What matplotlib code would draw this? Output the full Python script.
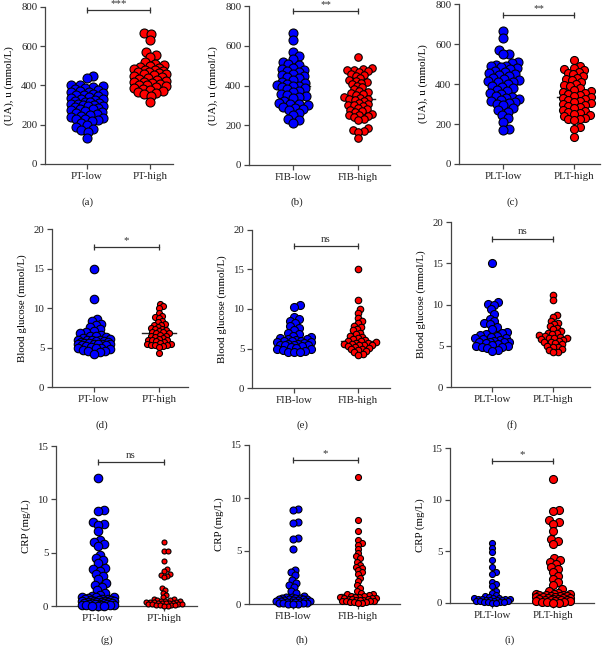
import numpy as np
import matplotlib
matplotlib.use("Agg")
import matplotlib.pyplot as plt

plt.rcParams['font.family'] = ['Liberation Serif', 'DejaVu Serif']
plt.rcParams['font.size'] = 7.8

W, H = 612, 649
BLUE = "#0000FF"
RED = "#FF0000"

# ---- data ----
ua_pt_low = [448, 440, 405, 400, 395, 390, 385, 380, 375, 370, 368, 365, 360, 355, 350, 350, 345, 340,
             335, 330, 330, 325, 320, 318, 315, 310, 305, 305, 300, 300, 298, 295, 290, 285, 280, 278,
             275, 270, 265, 260, 255, 250, 245, 240, 235, 230, 228, 225, 220, 210, 200, 190, 180, 175,
             165, 135]
ua_pt_high = [665, 660, 630, 570, 555, 545, 520, 510, 505, 500, 495, 490, 485, 480, 478, 475, 470, 468,
              465, 460, 458, 455, 450, 445, 440, 435, 430, 425, 420, 418, 415, 410, 405, 400, 395, 390,
              385, 380, 375, 370, 365, 360, 355, 345, 315]
ua_fib_low = [665, 630, 570, 550, 535, 520, 510, 505, 490, 485, 480, 475, 470, 460, 455, 450, 445, 440,
              430, 420, 415, 410, 405, 400, 395, 390, 385, 380, 370, 365, 355, 350, 345, 340, 335, 320,
              310, 305, 305, 300, 290, 285, 280, 275, 260, 250, 230, 225, 210]
ua_fib_high = [545, 490, 485, 480, 478, 475, 470, 460, 455, 450, 440, 430, 425, 420, 415, 410, 400, 390,
               380, 370, 365, 360, 355, 350, 340, 335, 330, 330, 325, 320, 310, 305, 300, 300, 295, 285,
               280, 275, 270, 265, 255, 250, 250, 245, 240, 230, 225, 185, 175, 170, 168, 135]
ua_plt_low = [665, 630, 570, 550, 548, 510, 505, 495, 490, 490, 485, 480, 475, 465, 460, 455, 450, 445,
              440, 430, 425, 420, 415, 410, 410, 400, 390, 385, 380, 370, 365, 355, 350, 340, 335, 330,
              325, 320, 315, 310, 305, 300, 295, 280, 270, 260, 245, 230, 210, 175, 170]
ua_plt_high = [520, 490, 480, 475, 470, 460, 455, 450, 440, 430, 425, 420, 410, 400, 395, 390, 380, 370,
               365, 360, 355, 350, 345, 340, 335, 330, 325, 320, 315, 310, 305, 300, 295, 290, 285, 280,
               270, 265, 260, 255, 250, 245, 240, 230, 225, 225, 220, 185, 175, 135]

glu_pt_low = [15.0, 11.1, 8.6, 8.3, 8.0, 7.8, 7.6, 7.3, 7.1, 7.0, 6.8, 6.6, 6.5, 6.4, 6.3, 6.2, 6.1, 6.0,
              6.0, 5.9, 5.9, 5.8, 5.8, 5.7, 5.7, 5.6, 5.6, 5.5, 5.5, 5.5, 5.4, 5.4, 5.3, 5.3, 5.2, 5.1,
              5.0, 5.0, 4.9, 4.8, 4.7, 4.6, 4.5, 4.4, 4.2]
glu_pt_high = [10.5, 10.2, 10.0, 9.4, 9.0, 8.8, 8.7, 8.4, 8.2, 8.0, 7.9, 7.8, 7.6, 7.5, 7.4, 7.3, 7.2,
               7.1, 7.0, 6.9, 6.8, 6.8, 6.6, 6.5, 6.4, 6.3, 6.2, 6.1, 6.0, 6.0, 5.9, 5.8, 5.7, 5.6, 5.5,
               5.4, 5.3, 5.3, 5.3, 5.2, 5.1, 4.3]
glu_fib_low = [10.5, 10.3, 9.0, 8.7, 8.5, 8.2, 7.8, 7.6, 7.3, 7.0, 6.8, 6.6, 6.4, 6.3, 6.2, 6.2, 6.1, 6.0,
               6.0, 5.9, 5.8, 5.8, 5.7, 5.6, 5.6, 5.5, 5.5, 5.5, 5.4, 5.3, 5.2, 5.1, 5.0, 4.9, 4.8, 4.7,
               4.6, 4.5, 4.5]
glu_fib_high = [15.0, 11.1, 10.0, 9.5, 8.8, 8.5, 8.2, 7.9, 7.7, 7.5, 7.3, 7.0, 6.8, 6.6, 6.5, 6.3, 6.2,
                6.1, 6.0, 5.9, 5.8, 5.7, 5.7, 5.6, 5.6, 5.5, 5.5, 5.4, 5.3, 5.2, 5.1, 5.0, 4.9, 4.8, 4.7,
                4.5, 4.3, 4.2]
glu_plt_low = [15.0, 10.3, 10.1, 10.0, 9.4, 8.8, 8.3, 8.0, 7.8, 7.6, 7.3, 7.0, 6.7, 6.5, 6.4, 6.3, 6.2,
               6.1, 6.0, 5.9, 5.8, 5.7, 5.6, 5.5, 5.5, 5.5, 5.4, 5.3, 5.2, 5.1, 5.0, 5.0, 4.9, 4.8, 4.7,
               4.5, 4.4]
glu_plt_high = [11.1, 10.5, 8.7, 8.5, 8.0, 7.8, 7.6, 7.4, 7.2, 7.0, 6.8, 6.6, 6.5, 6.4, 6.3, 6.2, 6.1,
                6.0, 6.0, 5.9, 5.8, 5.7, 5.6, 5.5, 5.4, 5.3, 5.2, 5.0, 4.9, 4.8, 4.6, 4.5, 4.3, 4.2]

crp_pt_low = [12.0, 9.0, 8.9, 7.9, 7.7, 7.6, 7.0, 6.2, 6.0, 5.8, 5.6, 4.8, 4.5, 4.3, 4.0, 3.6, 3.5, 3.3,
              3.0, 2.8, 2.5, 2.2, 2.0, 1.8, 1.5, 1.2, 1.0, 0.9, 0.8, 0.8, 0.8, 0.75, 0.7, 0.7, 0.65, 0.6,
              0.6, 0.55, 0.5, 0.5, 0.5, 0.45, 0.4, 0.4, 0.4, 0.35, 0.3, 0.3, 0.3, 0.25, 0.2, 0.2, 0.2,
              0.15, 0.1, 0.1, 0.1, 0.05, 0.05, 0.0, 0.0, 0.0]
crp_pt_high = [6.0, 5.2, 5.2, 4.2, 3.5, 3.3, 3.0, 2.9, 2.8, 2.7, 1.7, 1.5, 1.2, 1.0, 0.8, 0.7, 0.7, 0.6,
               0.6, 0.5, 0.5, 0.5, 0.4, 0.4, 0.4, 0.35, 0.3, 0.3, 0.3, 0.3, 0.25, 0.2, 0.2, 0.2, 0.15,
               0.1, 0.1, 0.1, 0.05, 0.0, 0.0]
crp_fib_low = [9.0, 8.9, 7.7, 7.6, 6.2, 6.1, 5.2, 3.2, 3.0, 2.7, 2.3, 2.0, 1.8, 1.6, 1.2, 1.0, 0.8, 0.7,
               0.7, 0.6, 0.6, 0.55, 0.5, 0.5, 0.5, 0.45, 0.4, 0.4, 0.35, 0.3, 0.3, 0.3, 0.25, 0.2, 0.2,
               0.2, 0.15, 0.1, 0.1, 0.1, 0.05, 0.0, 0.0, 0.0]
crp_fib_high = [12.0, 7.9, 6.9, 6.0, 5.8, 5.6, 5.2, 4.8, 4.5, 4.3, 4.0, 3.7, 3.5, 3.4, 3.2, 3.0, 2.8,
                2.5, 2.2, 1.8, 1.5, 1.2, 1.0, 0.9, 0.9, 0.85, 0.8, 0.75, 0.7, 0.7, 0.65, 0.6, 0.6, 0.55,
                0.5, 0.5, 0.45, 0.4, 0.4, 0.35, 0.3, 0.3, 0.3, 0.25, 0.2, 0.2, 0.15, 0.1, 0.1]
crp_plt_low = [5.8, 5.3, 4.9, 4.2, 3.5, 3.0, 2.8, 2.0, 1.8, 1.6, 1.2, 1.0, 0.8, 0.7, 0.6, 0.5, 0.5, 0.45,
               0.4, 0.4, 0.4, 0.35, 0.3, 0.3, 0.3, 0.25, 0.2, 0.2, 0.2, 0.15, 0.1, 0.1, 0.1, 0.05, 0.0,
               0.0]
crp_plt_high = [12.0, 9.0, 8.9, 8.0, 7.8, 7.6, 7.0, 6.2, 6.0, 5.7, 4.4, 4.2, 4.0, 3.8, 3.5, 3.3, 3.0,
                2.6, 2.3, 2.0, 1.7, 1.4, 1.2, 1.0, 0.9, 0.9, 0.85, 0.8, 0.8, 0.75, 0.7, 0.7, 0.65, 0.6,
                0.6, 0.55, 0.5, 0.5, 0.45, 0.4, 0.4, 0.35, 0.3, 0.3, 0.3, 0.25, 0.2, 0.2, 0.15, 0.1, 0.1,
                0.05, 0.0, 0.0]

groups = [["PT-low", "PT-high"], ["FIB-low", "FIB-high"], ["PLT-low", "PLT-high"]]
ylabels = ["(UA), u (mmol/L)", "Blood glucose (mmol/L)", "CRP (mg/L)"]
yticks = [[0, 200, 400, 600, 800], [0, 5, 10, 15, 20], [0, 5, 10, 15]]
values = [[(ua_pt_low, ua_pt_high), (ua_fib_low, ua_fib_high), (ua_plt_low, ua_plt_high)],
          [(glu_pt_low, glu_pt_high), (glu_fib_low, glu_fib_high), (glu_plt_low, glu_plt_high)],
          [(crp_pt_low, crp_pt_high), (crp_fib_low, crp_fib_high), (crp_plt_low, crp_plt_high)]]
sig_text = [["***", "**", "**"], ["*", "ns", "ns"], ["ns", "*", "*"]]
sig_y = [[785, 775, 745], [17.7, 18.0, 18.0], [13.5, 13.6, 13.7]]
letters = [["(a)", "(b)", "(c)"], ["(d)", "(e)", "(f)"], ["(g)", "(h)", "(i)"]]

# ---- layout in pixels: left, right, top, bottom, x of 1st category, x of 2nd category ----
geom = [[(45, 173, 7, 164, 87, 150), (249, 390, 6, 165, 293, 358), (459, 600, 4, 164, 503, 574)],
        [(52, 188, 229, 387, 94, 159), (252, 390, 230, 388, 294, 358), (451, 590, 222, 387, 492, 553)],
        [(56, 197, 446, 606, 98, 164), (249, 400, 445, 604, 293, 358), (450, 594, 448, 603, 492, 553)]]
letter_pos = [[(88, 202), (297, 202), (512, 202)],
              [(102, 425), (302, 425), (512, 425)],
              [(107, 640), (302, 640), (510, 640)]]
# marker diameters in pixels (low, high)
msize = [[(9, 9), (9, 7.5), (9, 8)],
         [(8.5, 6), (8, 6.5), (8, 6.5)],
         [(8.5, 5), (7, 6), (6, 8)]]
HALF_W = 21    # half width of each swarm, px
MED_HALF = 17  # half width of median line, px


def swarm_offsets(ax, xc, yvals, diam, halfw=HALF_W, overlap=0.66):
    """x offsets (data units): spread points sideways inside +-halfw px."""
    pts = ax.transData.transform(np.column_stack([np.full(len(yvals), xc), yvals]))
    ypix = pts[:, 1]
    ppu = ax.transData.transform([[1, 0]])[0, 0] - ax.transData.transform([[0, 0]])[0, 0]
    mind = diam * overlap
    lim = max(halfw - diam / 2, 0)
    steps = np.arange(0, lim + 0.01, 0.8)
    cands = [0.0]
    for s in steps[1:]:
        cands += [s, -s]
    placed = []
    offs = np.zeros(len(yvals))
    for i in np.argsort(ypix):
        best, best_d = 0.0, -1
        for c in cands:
            dmin = min([np.hypot(c - px, ypix[i] - py) for px, py in placed] or [1e9])
            if dmin >= mind:
                best = c
                break
            if dmin > best_d + 1e-6:
                best, best_d = c, dmin
        placed.append((best, ypix[i]))
        offs[i] = best / ppu
    return offs


fig = plt.figure(figsize=(W / 100, H / 100), dpi=100)

for r in range(3):
    for c in range(3):
        l, rr, t, b, x0, x1 = geom[r][c]
        ax = fig.add_axes([l / W, 1 - b / H, (rr - l) / W, (b - t) / H])
        unit = x1 - x0
        ax.set_xlim(-(x0 - l) / unit, 1 + (rr - x1) / unit)
        yt = yticks[r]
        ax.set_ylim(0, yt[-1])
        ax.set_yticks(yt)
        ax.set_xticks([0, 1])
        ax.set_xticklabels(groups[c])
        ax.set_ylabel(ylabels[r], labelpad=5)
        for s in ["top", "right"]:
            ax.spines[s].set_visible(False)
        for s in ["left", "bottom"]:
            ax.spines[s].set_color("#444444")
            ax.spines[s].set_linewidth(0.9)
        ax.tick_params(direction="out", length=3.5, width=0.9, color="#444444", pad=2,
                       labelcolor="#222222")

        mw = MED_HALF / unit
        for j, (vals, col) in enumerate(zip(values[r][c], [BLUE, RED])):
            vals = np.array(vals, dtype=float)
            d = msize[r][c][j]
            offs = swarm_offsets(ax, j, vals, d)
            med = np.median(vals)
            ax.plot([j - mw, j + mw], [med, med], color="#222222", lw=1.0, zorder=2)
            ax.scatter(j + offs, vals, s=(d * 0.72) ** 2, c=col, edgecolors="black",
                       linewidths=0.8, zorder=3, clip_on=False)

        # significance bracket
        ys = sig_y[r][c]
        ax.plot([0, 1], [ys, ys], color="#333333", lw=0.9, clip_on=False, zorder=4)
        ax.plot([0, 1], [ys, ys], ls="none", marker="|", ms=5, mew=0.9, color="#333333",
                clip_on=False, zorder=4)
        ax.annotate(sig_text[r][c], xy=(0.5, ys), xytext=(0, 1.5), textcoords="offset points",
                    ha="center", va="bottom", fontsize=7.8, color="#333333")

        lx, ly = letter_pos[r][c]
        fig.text(lx / W, 1 - ly / H, letters[r][c], ha="center", va="center", fontsize=7.8,
                 color="#222222")

fig.savefig("out.png", dpi=100)
